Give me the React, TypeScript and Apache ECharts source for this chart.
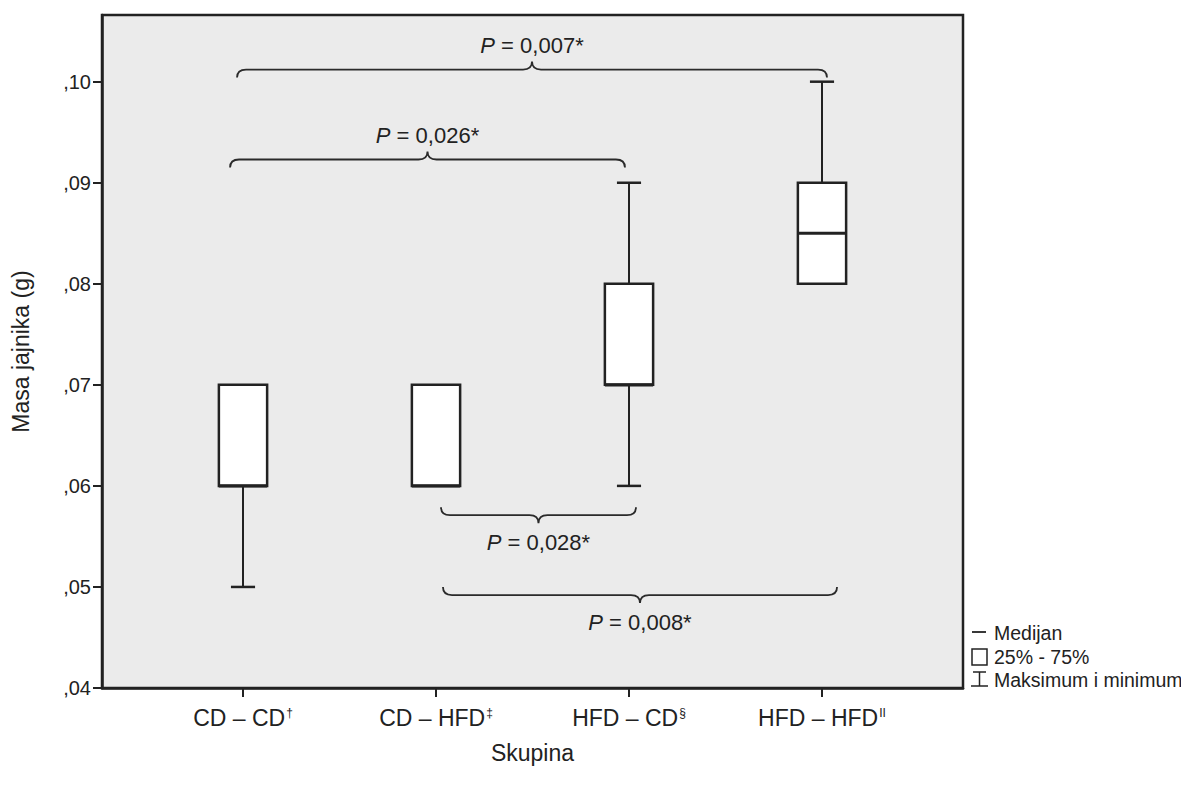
import React, { useEffect, useRef } from "react";
import * as echarts from "echarts";

const categories = ["CD – CD", "CD – HFD", "HFD – CD", "HFD – HFD"];
const categoryMarks = ["†", "‡", "§", "II"];
// [min, q1, median, q3, max]
const boxMin = [0.05, 0.06, 0.06, 0.08];
const boxQ1 = [0.06, 0.06, 0.07, 0.08];
const boxMedian = [0.06, 0.06, 0.07, 0.085];
const boxQ3 = [0.07, 0.07, 0.08, 0.09];
const boxMax = [0.07, 0.07, 0.09, 0.1];
const yTicks = [0.04, 0.05, 0.06, 0.07, 0.08, 0.09, 0.1];

// comparison braces
const braceFrom = [-0.031, -0.067, 1.026, 1.036];
const braceTo = [3.026, 1.979, 2.036, 3.078];
const braceLevel = [0.1012, 0.0923, 0.0571, 0.0492];
const braceUp = [true, true, false, false];
const braceText = ["0,007*", "0,026*", "0,028*", "0,008*"];

const INK = "#222";
const FONT = "'Liberation Sans', Arial, sans-serif";

export default function App() {
  const ref = useRef<HTMLDivElement>(null);
  useEffect(() => {
    if (!ref.current) return;
    const chart = echarts.init(ref.current, undefined, { renderer: "svg" });
    const boxData = categories.map((_, i) => [i, boxMin[i], boxQ1[i], boxMedian[i], boxQ3[i], boxMax[i]]);
    const braceData = braceFrom.map((_, i) => [braceFrom[i], braceTo[i], braceLevel[i], braceUp[i] ? 1 : 0, i]);

    chart.setOption({
      animation: false,
      textStyle: { fontFamily: FONT },
      grid: {
        left: 102,
        top: 15,
        width: 861,
        height: 673,
        show: true,
        backgroundColor: "#ebebeb",
        borderColor: INK,
        borderWidth: 2.5,
      },
      xAxis: {
        type: "value",
        min: -0.7306,
        max: 3.7306,
        name: "Skupina",
        nameLocation: "middle",
        nameGap: 53,
        nameTextStyle: { fontSize: 23, color: INK, fontFamily: FONT },
        splitLine: { show: false },
        axisLine: { show: true, onZero: false, lineStyle: { color: INK, width: 2.5 } },
        axisTick: { show: true, customValues: [0, 1, 2, 3], length: 9, lineStyle: { color: INK, width: 2 } },
        axisLabel: {
          customValues: [0, 1, 2, 3],
          margin: 18,
          fontSize: 23,
          color: INK,
          fontFamily: FONT,
          formatter: (v: number) => {
            const i = Math.round(v);
            return `{n|${categories[i]}}{s|${categoryMarks[i]}}`;
          },
          rich: {
            n: { fontSize: 23, color: INK, fontFamily: FONT },
            s: { fontSize: 12, color: INK, fontFamily: FONT, padding: [0, 0, 10, 1] },
          },
        },
      },
      yAxis: {
        type: "value",
        min: 0.04,
        max: 0.1066,
        name: "Masa jajnika (g)",
        nameLocation: "middle",
        nameGap: 70,
        nameTextStyle: { fontSize: 23, color: INK, fontFamily: FONT },
        splitLine: { show: false },
        axisLine: { show: true, onZero: false, lineStyle: { color: INK, width: 2.5 } },
        axisTick: { show: true, customValues: yTicks, length: 9, lineStyle: { color: INK, width: 2 } },
        axisLabel: {
          customValues: yTicks,
          margin: 11,
          fontSize: 20,
          color: INK,
          fontFamily: FONT,
          formatter: (v: number) => "," + v.toFixed(2).split(".")[1],
        },
      },
      series: [
        {
          type: "custom",
          data: boxData,
          encode: { x: 0, y: [1, 2, 3, 4, 5] },
          renderItem: (params: any, api: any) => {
            const x = api.value(0);
            const vMin = api.value(1);
            const q1 = api.value(2);
            const med = api.value(3);
            const q3 = api.value(4);
            const vMax = api.value(5);
            const halfW = api.size([0.25, 0])[0] / 2;
            const capW = api.size([0.125, 0])[0] / 2;
            const pTop = api.coord([x, q3]);
            const pBot = api.coord([x, q1]);
            const pMed = api.coord([x, med]);
            const pMax = api.coord([x, vMax]);
            const pMin = api.coord([x, vMin]);
            const cx = pTop[0];
            const children: any[] = [];
            const ls = { stroke: INK, lineWidth: 2.5, fill: null };
            if (vMax > q3) {
              children.push({ type: "line", shape: { x1: cx, y1: pTop[1], x2: cx, y2: pMax[1] }, style: { ...ls, lineWidth: 2 } });
              children.push({ type: "line", shape: { x1: cx - capW, y1: pMax[1], x2: cx + capW, y2: pMax[1] }, style: ls });
            }
            if (vMin < q1) {
              children.push({ type: "line", shape: { x1: cx, y1: pBot[1], x2: cx, y2: pMin[1] }, style: { ...ls, lineWidth: 2 } });
              children.push({ type: "line", shape: { x1: cx - capW, y1: pMin[1], x2: cx + capW, y2: pMin[1] }, style: ls });
            }
            children.push({
              type: "rect",
              shape: { x: cx - halfW, y: pTop[1], width: halfW * 2, height: pBot[1] - pTop[1] },
              style: { fill: "#fff", stroke: INK, lineWidth: 2.5 },
            });
            children.push({
              type: "line",
              shape: { x1: cx - halfW, y1: pMed[1], x2: cx + halfW, y2: pMed[1] },
              style: { stroke: INK, lineWidth: 3.2 },
            });
            return { type: "group", children };
          },
        },
        {
          type: "custom",
          data: braceData,
          encode: { x: [0, 1], y: 2 },
          renderItem: (params: any, api: any) => {
            const a = api.coord([api.value(0), api.value(2)]);
            const b = api.coord([api.value(1), api.value(2)]);
            const up = api.value(3) === 1;
            const idx = api.value(4);
            const y = a[1];
            const d = up ? 1 : -1;
            const r = 9;
            const yEnd = y + d * 8;
            const yTip = y - d * 8;
            const xm = (a[0] + b[0]) / 2;
            const pathData =
              `M ${a[0]} ${yEnd} Q ${a[0]} ${y} ${a[0] + r} ${y} ` +
              `L ${xm - r} ${y} Q ${xm} ${y} ${xm} ${yTip} ` +
              `Q ${xm} ${y} ${xm + r} ${y} L ${b[0] - r} ${y} Q ${b[0]} ${y} ${b[0]} ${yEnd}`;
            const ty = up ? yTip - 16 : yTip + 19;
            return {
              type: "group",
              children: [
                { type: "path", shape: { pathData }, style: { stroke: "#2a2a2a", lineWidth: 1.8, fill: null } },
                {
                  type: "text",
                  style: {
                    x: xm,
                    y: ty,
                    align: "center",
                    verticalAlign: "middle",
                    text: `{i|P} = ${braceText[idx]}`,
                    fontSize: 22,
                    fontFamily: FONT,
                    fill: INK,
                    rich: {
                      i: { fontStyle: "italic", fontSize: 22, fontFamily: FONT, fill: INK, color: INK },
                    },
                  },
                },
              ],
            };
          },
        },
      ],
      graphic: [
        { type: "line", shape: { x1: 972, y1: 632, x2: 986, y2: 632 }, style: { stroke: INK, lineWidth: 1.8 } },
        { type: "text", style: { x: 994, y: 633, text: "Medijan", fontSize: 19.5, fontFamily: FONT, fill: INK, verticalAlign: "middle" } },
        { type: "rect", shape: { x: 972, y: 649, width: 15, height: 16 }, style: { stroke: INK, lineWidth: 1.5, fill: "#fff" } },
        { type: "text", style: { x: 994, y: 657, text: "25% - 75%", fontSize: 19.5, fontFamily: FONT, fill: INK, verticalAlign: "middle" } },
        { type: "line", shape: { x1: 973, y1: 672, x2: 986, y2: 672 }, style: { stroke: INK, lineWidth: 1.5 } },
        { type: "line", shape: { x1: 979.5, y1: 672, x2: 979.5, y2: 686 }, style: { stroke: INK, lineWidth: 1.5 } },
        { type: "line", shape: { x1: 971, y1: 686, x2: 988, y2: 686 }, style: { stroke: INK, lineWidth: 1.5 } },
        { type: "text", style: { x: 994, y: 680, text: "Maksimum i minimum", fontSize: 19.5, fontFamily: FONT, fill: INK, verticalAlign: "middle" } },
      ],
    });
    return () => chart.dispose();
  }, []);
  return <div ref={ref} style={{ width: 1189, height: 785, margin: -8 }} />;
}
